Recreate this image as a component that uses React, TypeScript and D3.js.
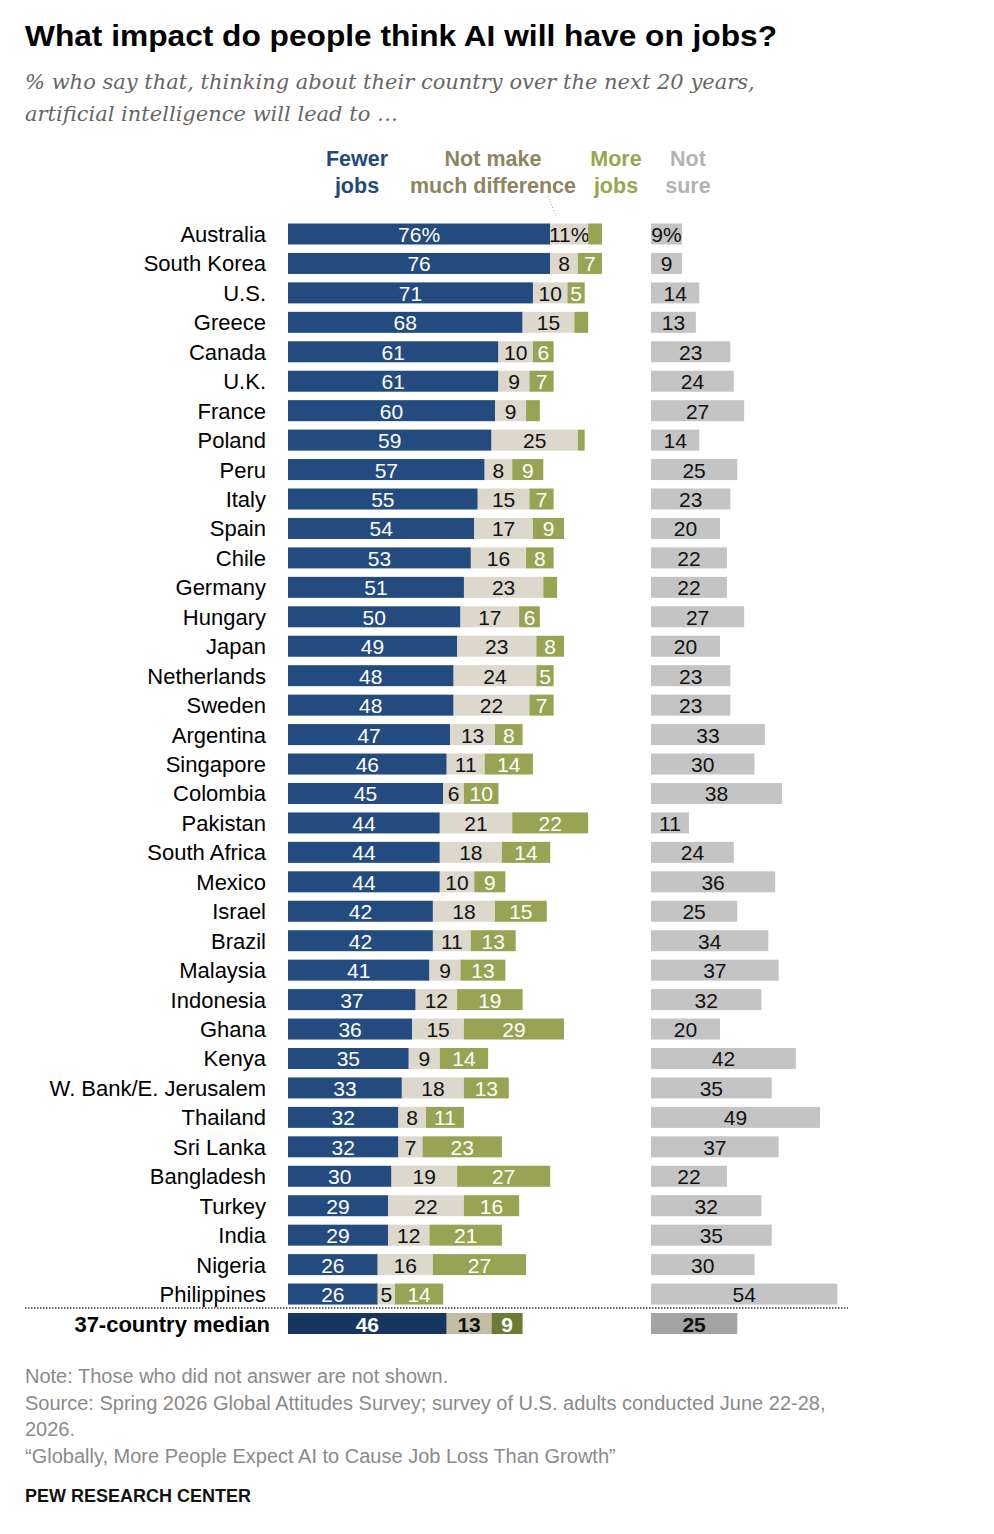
import * as d3 from 'd3';

document.body.style.margin = '0';

const countries = [
  'Australia', 'South Korea', 'U.S.', 'Greece', 'Canada', 'U.K.', 'France', 'Poland', 'Peru',
  'Italy', 'Spain', 'Chile', 'Germany', 'Hungary', 'Japan', 'Netherlands', 'Sweden', 'Argentina',
  'Singapore', 'Colombia', 'Pakistan', 'South Africa', 'Mexico', 'Israel', 'Brazil', 'Malaysia',
  'Indonesia', 'Ghana', 'Kenya', 'W. Bank/E. Jerusalem', 'Thailand', 'Sri Lanka', 'Bangladesh',
  'Turkey', 'India', 'Nigeria', 'Philippines',
];
const fewerJobs = [76, 76, 71, 68, 61, 61, 60, 59, 57, 55, 54, 53, 51, 50, 49, 48, 48, 47, 46, 45, 44, 44, 44, 42, 42, 41, 37, 36, 35, 33, 32, 32, 30, 29, 29, 26, 26];
const noDifference = [11, 8, 10, 15, 10, 9, 9, 25, 8, 15, 17, 16, 23, 17, 23, 24, 22, 13, 11, 6, 21, 18, 10, 18, 11, 9, 12, 15, 9, 18, 8, 7, 19, 22, 12, 16, 5];
const moreJobs = [4, 7, 5, 4, 6, 7, 4, 2, 9, 7, 9, 8, 4, 6, 8, 5, 7, 8, 14, 10, 22, 14, 9, 15, 13, 13, 19, 29, 14, 13, 11, 23, 27, 16, 21, 27, 14];
const notSure = [9, 9, 14, 13, 23, 24, 27, 14, 25, 23, 20, 22, 22, 27, 20, 23, 23, 33, 30, 38, 11, 24, 36, 25, 34, 37, 32, 20, 42, 35, 49, 37, 22, 32, 35, 30, 54];
const medianLabel = '37-country median';
const medianValues = [46, 13, 9, 25];

const legendItems = [
  { lines: ['Fewer', 'jobs'], color: '#244a7c', cx: 357 },
  { lines: ['Not make', 'much difference'], color: '#8e8560', cx: 493 },
  { lines: ['More', 'jobs'], color: '#99a650', cx: 616 },
  { lines: ['Not', 'sure'], color: '#b3b3b3', cx: 688 },
];

const footLines = [
  'Note: Those who did not answer are not shown.',
  'Source: Spring 2026 Global Attitudes Survey; survey of U.S. adults conducted June 22-28,',
  '2026.',
  '\u201cGlobally, More People Expect AI to Cause Job Loss Than Growth\u201d',
];

const W = 994;
const H = 1534;
const FONT = '"Liberation Sans", Arial, sans-serif';

const segColors = ['#234b80', '#dcd8cb', '#98a453', '#c4c4c4'];
const medColors = ['#17365f', '#c4bda6', '#6c7c36', '#a3a3a3'];
const txtColors = ['#ffffff', '#111111', '#ffffff', '#111111'];

export default function App() {
  const rowNames = [...countries, medianLabel];
  const y = d3.scalePoint<string>().domain(rowNames).range([234, 1323.5]);
  const barH = 21;
  const x = d3.scaleLinear().domain([0, 100]).range([288, 633]);
  const xNs = d3.scaleLinear().domain([0, 100]).range([651, 996]);

  const rows = countries.map((c, i) => ({
    name: c,
    vals: [fewerJobs[i], noDifference[i], moreJobs[i], notSure[i]],
    median: false,
  }));
  rows.push({ name: medianLabel, vals: medianValues, median: true });

  return (
    <svg width={W} height={H} viewBox={`0 0 ${W} ${H}`} style={{ display: 'block', background: '#fff' }}>
      <text
        x={25}
        y={46}
        fontFamily={FONT}
        fontWeight={700}
        fontSize={30}
        fill="#000"
        textLength={752}
        lengthAdjust="spacingAndGlyphs"
      >
        What impact do people think AI will have on jobs?
      </text>
      <text x={25} y={89} fontFamily='"DejaVu Serif", Georgia, serif' fontStyle="italic" fontSize={21} fill="#666">
        % who say that, thinking about their country over the next 20 years,
      </text>
      <text x={25} y={121} fontFamily='"DejaVu Serif", Georgia, serif' fontStyle="italic" fontSize={21} fill="#666">
        artificial intelligence will lead to …
      </text>

      {legendItems.map((l) => (
        <text key={l.lines[0]} fontFamily={FONT} fontWeight={700} fontSize={21.5} fill={l.color} textAnchor="middle">
          {l.lines.map((t, j) => (
            <tspan key={t} x={l.cx} y={166 + j * 27}>
              {t}
            </tspan>
          ))}
        </text>
      ))}
      <line x1={548} y1={196} x2={556} y2={216} stroke="#999" strokeWidth={1} strokeDasharray="1 2" />

      {rows.map((r, i) => {
        const cy = y(r.name) as number;
        let acc = 0;
        const segs = r.vals.slice(0, 3).map((v, k) => {
          const s = { k, v, x0: x(acc), x1: x(acc + v) };
          acc += v;
          return s;
        });
        const colors = r.median ? medColors : segColors;
        const weight = r.median ? 700 : 400;
        const pct = i === 0 ? '%' : '';
        return (
          <g key={r.name}>
            <text
              x={r.median ? 270 : 266}
              y={cy + 8}
              textAnchor="end"
              fontFamily={FONT}
              fontSize={22}
              fontWeight={weight}
              fill="#000"
            >
              {r.name}
            </text>
            {segs.map((s) => (
              <g key={s.k}>
                <rect x={s.x0} y={cy - barH / 2} width={s.x1 - s.x0} height={barH} fill={colors[s.k]} />
                {s.v >= 5 && (
                  <text
                    x={(s.x0 + s.x1) / 2}
                    y={cy + 8}
                    textAnchor="middle"
                    fontFamily={FONT}
                    fontSize={21}
                    fontWeight={weight}
                    fill={txtColors[s.k]}
                  >
                    {s.v}
                    {pct}
                  </text>
                )}
              </g>
            ))}
            <rect x={xNs(0)} y={cy - barH / 2} width={xNs(r.vals[3]) - xNs(0)} height={barH} fill={colors[3]} />
            <text
              x={(xNs(0) + xNs(r.vals[3])) / 2}
              y={cy + 8}
              textAnchor="middle"
              fontFamily={FONT}
              fontSize={21}
              fontWeight={weight}
              fill={txtColors[3]}
            >
              {r.vals[3]}
              {pct}
            </text>
          </g>
        );
      })}

      <line x1={25} y1={1308} x2={848} y2={1308} stroke="#333" strokeWidth={1.5} strokeDasharray="1.5 1.5" />

      {footLines.map((t, i) => (
        <text key={i} x={25} y={1383 + i * 26.7} fontFamily={FONT} fontSize={20} fill="#8a8a8a">
          {t}
        </text>
      ))}
      <text x={25} y={1502} fontFamily={FONT} fontSize={18} fontWeight={700} fill="#111">
        PEW RESEARCH CENTER
      </text>
    </svg>
  );
}
